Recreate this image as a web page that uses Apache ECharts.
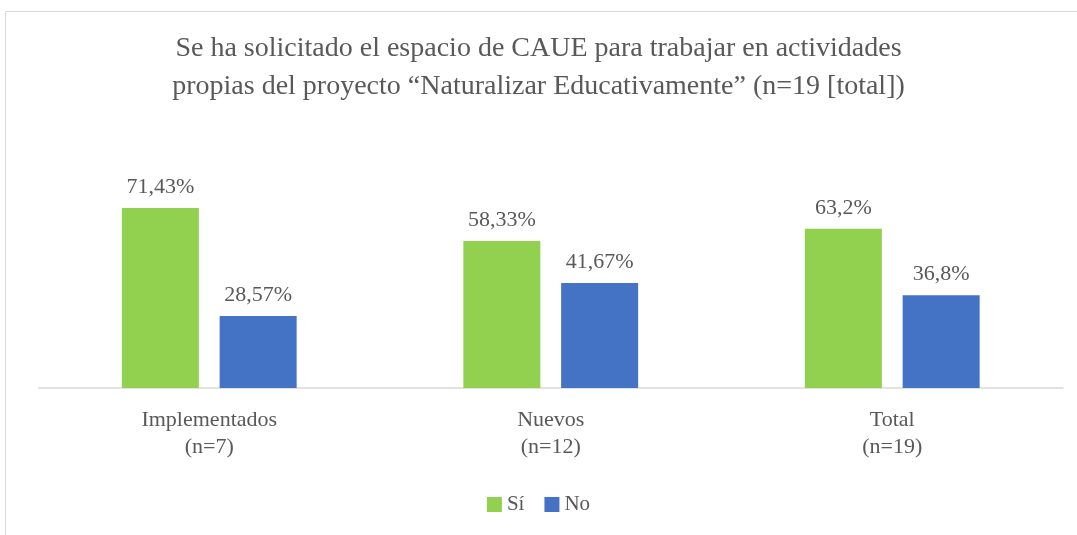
<!DOCTYPE html>
<html>
<head>
<meta charset="utf-8">
<script src="https://cdn.jsdelivr.net/npm/echarts@6/dist/echarts.min.js"></script>
<style>
  html, body { margin: 0; padding: 0; background: #fff; }
  #chart { width: 1077px; height: 535px; }
</style>
</head>
<body>
<div id="chart"></div>
<script>
// datos
var categorias = ['Implementados\n(n=7)', 'Nuevos\n(n=12)', 'Total\n(n=19)'];
var valoresSi = [71.43, 58.33, 63.2];
var valoresNo = [28.57, 41.67, 36.8];

var fuente = '"Liberation Serif", "DejaVu Serif", serif';
var gris = '#595959';

function etiqueta(p) {
  return String(p.value).replace('.', ',') + '%';
}

var chart = echarts.init(document.getElementById('chart'));

var option = {
  animation: false,
  //título en dos líneas
  title: {
    text: 'Se ha solicitado el espacio de CAUE para trabajar en actividades\npropias del proyecto “Naturalizar Educativamente” (n=19 [total])',
    left: 'center',
    top: 25,
    textStyle: {
      fontFamily: fuente,
      fontSize: 28,
      fontWeight: 'normal',
      color: gris,
      lineHeight: 38
    }
  },
  // marco del gráfico
  graphic: [{
    type: 'rect',
    shape: { x: 5.5, y: 11.5, width: 1200, height: 600 },
    style: { fill: 'none', stroke: '#d9d9d9', lineWidth: 1 },
    silent: true
  }],
  legend: {
    data: ['Sí', 'No'],
    bottom: 15,
    left: 'center',
    icon: 'rect',
    itemWidth: 15,
    itemHeight: 15,
    itemGap: 20,
    textStyle: { fontFamily: fuente, fontSize: 21, color: gris }
  },
  grid: {
    left: 38.5,
    right: 14,
    top: 136,
    bottom: 147
  },
  xAxis: {
    type: 'category',
    data: categorias,
    axisLine: { lineStyle: { color: '#d9d9d9', width: 1.5 } },
    axisTick: { show: false },
    axisLabel: {
      fontFamily: fuente,
      fontSize: 22,
      color: gris,
      lineHeight: 27,
      margin: 19
    }
  },
  yAxis: {
    type: 'value',
    min: 0,
    max: 100,
    show: false
  },
  series: [
    {
      name: 'Sí',
      type: 'bar',
      data: valoresSi,
      barWidth: 77,
      barGap: '27%',
      itemStyle: { color: '#92d050' },
      label: {
        show: true,
        position: 'top',
        distance: 10,
        formatter: etiqueta,
        fontFamily: fuente,
        fontSize: 22,
        color: gris
      }
    },
    {
      name: 'No',
      type: 'bar',
      data: valoresNo,
      barWidth: 77,
      itemStyle: { color: '#4472c4' },
      label: {
        show: true,
        position: 'top',
        distance: 10,
        formatter: etiqueta,
        fontFamily: fuente,
        fontSize: 22,
        color: gris
      }
    }
  ]
};

chart.setOption(option);
</script>
</body>
</html>
